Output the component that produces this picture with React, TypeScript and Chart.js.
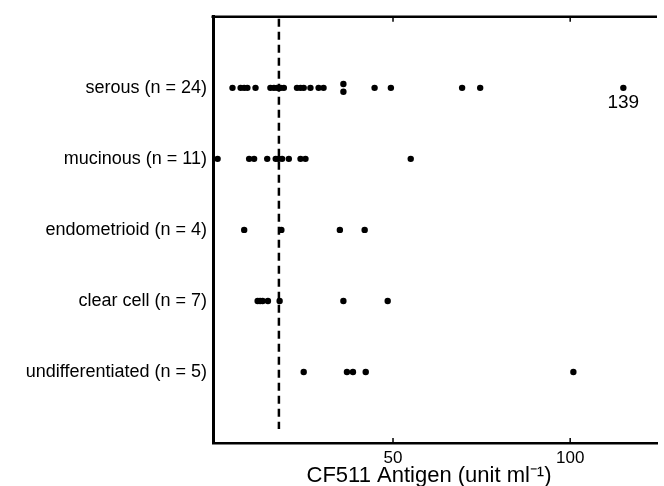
import { useEffect, useRef } from "react";
import { Chart, registerables } from "chart.js";

Chart.register(...registerables);

// Histological groups, top to bottom
const categories = [
  "serous (n = 24)",
  "mucinous (n = 11)",
  "endometrioid (n = 4)",
  "clear cell (n = 7)",
  "undifferentiated (n = 5)",
];

// CF511 antigen levels (unit/ml) per patient
const serous = [4.7, 7.0, 8.0, 8.9, 11.2, 15.4, 16.4, 17.3, 17.8, 18.3, 19.2, 22.9, 23.9, 24.8, 26.7, 29.0, 30.4, 36.0, 36.0, 44.8, 49.4, 69.5, 74.6, 139];
const mucinous = [0.5, 9.4, 10.8, 14.5, 16.9, 17.7, 18.7, 20.6, 23.9, 25.3, 55.0];
const endometrioid = [8.0, 18.5, 35.0, 42.0];
const clearCell = [11.8, 12.5, 13.2, 14.7, 18.0, 36.0, 48.5];
const undifferentiated = [24.8, 37.0, 38.7, 42.3, 100.9];

const groups = [serous, mucinous, endometrioid, clearCell, undifferentiated];

const xTicks = [50, 100];
const cutoff = 17.8; // upper limit of normal
const xTitle = "CF511 Antigen (unit ml\u207B\u00B9)";

// axis range; values beyond the break are pinned near the right edge
const X_MIN = -0.8;
const X_MAX = 124.5;
const BREAK_AT = 115;

const FONT = "'Liberation Sans', Arial, Helvetica, sans-serif";

type Pt = { x: number; y: number; value: number };

function buildPoints(): Pt[] {
  const pts: Pt[] = [];
  groups.forEach((vals, gi) => {
    const row = gi + 1;
    const sorted = [...vals].sort((a, b) => a - b);
    let i = 0;
    while (i < sorted.length) {
      // identical readings are spread vertically so both stay visible
      let j = i;
      while (j + 1 < sorted.length && sorted[j + 1] - sorted[i] < 0.3) j++;
      const n = j - i + 1;
      for (let k = i; k <= j; k++) {
        const v = sorted[k];
        const off = n > 1 ? ((k - i) - (n - 1) / 2) * 0.11 : 0;
        pts.push({ x: v > X_MAX ? BREAK_AT : v, y: row + off, value: v });
      }
      i = j + 1;
    }
  });
  return pts;
}

const framePlugin = {
  id: "frame",
  beforeDatasetsDraw(chart: any) {
    const { ctx, chartArea, scales } = chart;
    const x = scales.x.getPixelForValue(cutoff);
    ctx.save();
    ctx.strokeStyle = "#000";
    ctx.lineWidth = 2.5;
    ctx.setLineDash([8, 5]);
    ctx.beginPath();
    ctx.moveTo(x, chartArea.top + 2);
    ctx.lineTo(x, chartArea.bottom - 14);
    ctx.stroke();
    ctx.restore();
  },
  afterDraw(chart: any) {
    const { ctx, chartArea, scales } = chart;
    ctx.save();
    ctx.strokeStyle = "#000";
    ctx.lineWidth = 2.5;
    ctx.beginPath();
    ctx.moveTo(chartArea.left - 1.5, chartArea.top);
    ctx.lineTo(chartArea.right, chartArea.top);
    ctx.stroke();
    ctx.lineWidth = 1.5;
    for (const t of xTicks) {
      const px = scales.x.getPixelForValue(t);
      ctx.beginPath();
      ctx.moveTo(px, chartArea.top);
      ctx.lineTo(px, chartArea.top + 5);
      ctx.moveTo(px, chartArea.bottom);
      ctx.lineTo(px, chartArea.bottom - 5);
      ctx.stroke();
    }
    // print the true value under any point beyond the axis break
    ctx.fillStyle = "#000";
    ctx.font = `19px ${FONT}`;
    ctx.textAlign = "center";
    ctx.textBaseline = "middle";
    const data = chart.data.datasets[0].data as Pt[];
    for (const p of data) {
      if (p.value > X_MAX) {
        const px = scales.x.getPixelForValue(p.x);
        const py = scales.y.getPixelForValue(p.y);
        ctx.fillText(String(p.value), px, py + 15);
      }
    }
    // axis title, centred under the value range
    ctx.font = `22px ${FONT}`;
    ctx.fillText(xTitle, (chartArea.left + chartArea.right) / 2 - 6, chart.height - 10);
    ctx.restore();
  },
};

export default function App() {
  const ref = useRef<HTMLCanvasElement | null>(null);

  useEffect(() => {
    if (!ref.current) return;
    const chart = new Chart(ref.current, {
      type: "scatter",
      data: {
        datasets: [
          {
            data: buildPoints() as any,
            backgroundColor: "#000",
            borderWidth: 0,
            pointRadius: 3.2,
          },
        ],
      },
      options: {
        responsive: false,
        animation: false,
        layout: { padding: { top: 14, right: 7, bottom: 0, left: 0 } },
        plugins: {
          legend: { display: false },
          tooltip: { enabled: false },
        },
        scales: {
          x: {
            type: "linear",
            min: X_MIN,
            max: X_MAX,
            grid: { display: false, drawTicks: false },
            border: { display: true, color: "#000", width: 2.5 },
            afterBuildTicks: (scale: any) => {
              scale.ticks = xTicks.map((v) => ({ value: v }));
            },
            afterFit: (scale: any) => {
              scale.height = 43;
            },
            ticks: {
              color: "#000",
              padding: 5,
              maxRotation: 0,
              font: { family: FONT, size: 17 },
            },
          },
          y: {
            type: "linear",
            min: 0,
            max: 6,
            reverse: true,
            grid: { display: false, drawTicks: false },
            border: { display: true, color: "#000", width: 3 },
            afterBuildTicks: (scale: any) => {
              scale.ticks = categories.map((_, i) => ({ value: i + 1 }));
            },
            afterFit: (scale: any) => {
              scale.width = 213;
            },
            ticks: {
              color: "#000",
              padding: 6,
              font: { family: FONT, size: 18 },
              callback: (v: any) => categories[Number(v) - 1] ?? "",
            },
          },
        },
      },
      plugins: [framePlugin],
    });
    return () => chart.destroy();
  }, []);

  return (
    <div style={{ position: "absolute", left: 0, top: 0, width: 664, height: 486, background: "#fff" }}>
      <canvas ref={ref} width={664} height={486} style={{ display: "block" }} />
    </div>
  );
}
